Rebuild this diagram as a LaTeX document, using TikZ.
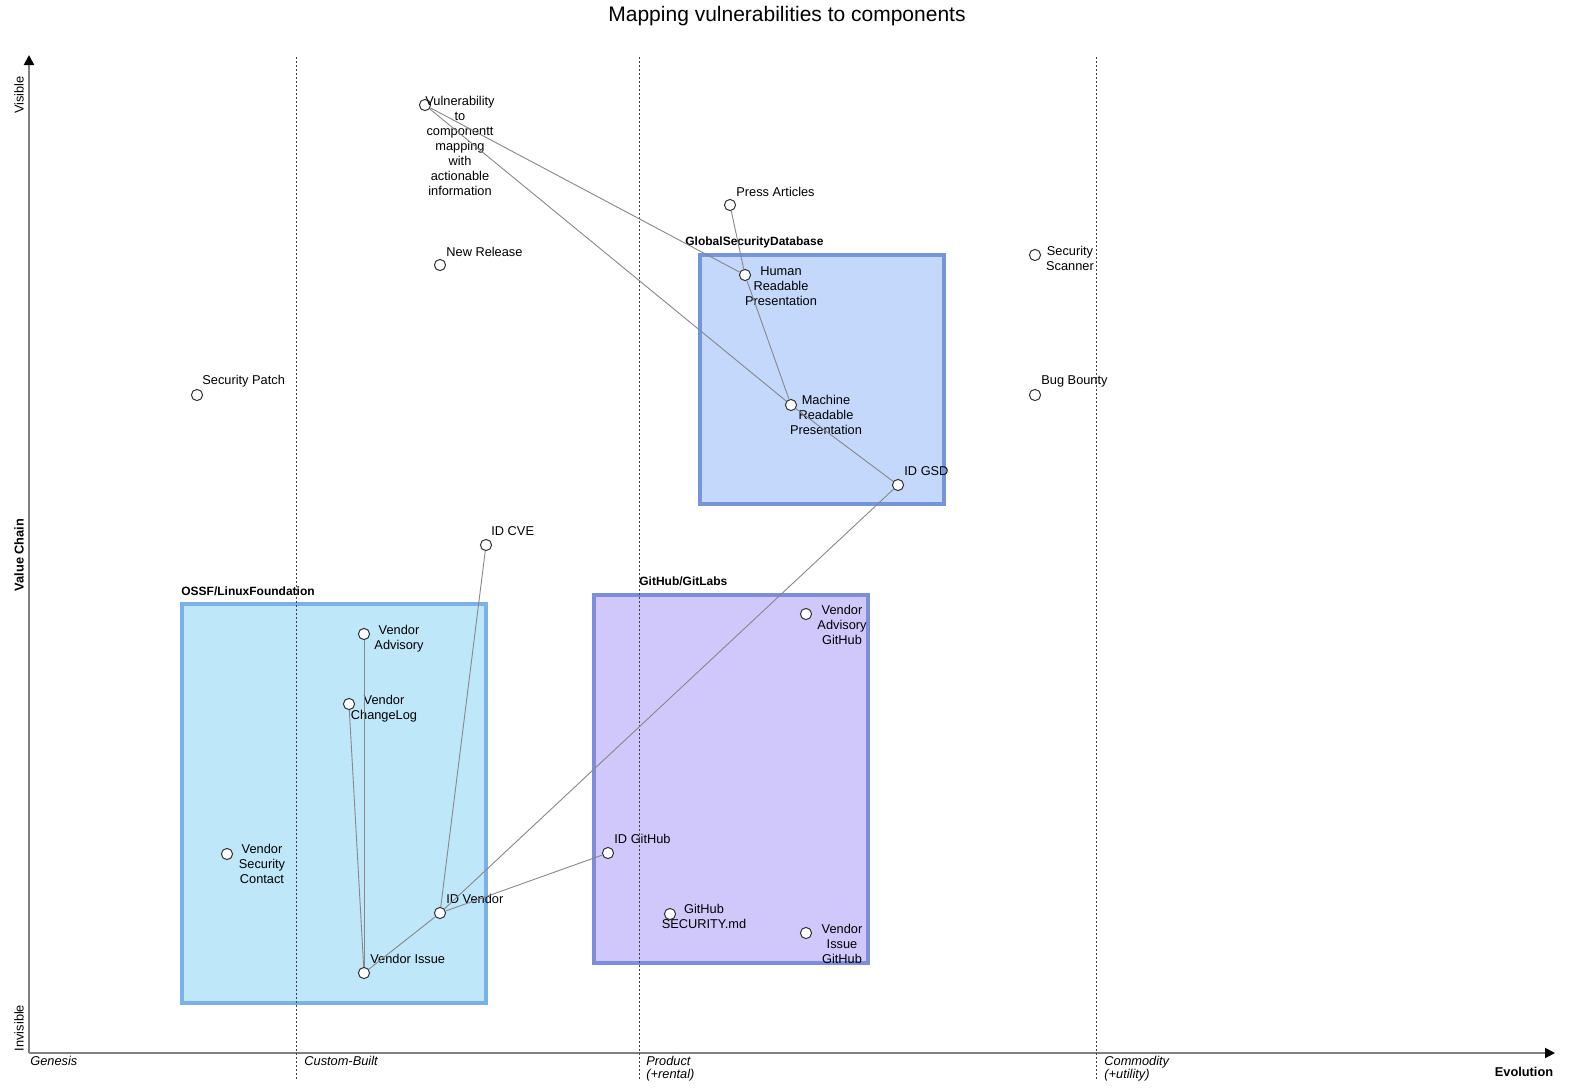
\documentclass[tikz,border=0pt]{standalone}
\usepackage{fontspec}
\setmainfont{Liberation Sans}
\usetikzlibrary{arrows.meta}
\definecolor{axisgray}{RGB}{128,128,128}
\definecolor{linkgray}{RGB}{135,135,135}
\definecolor{ossffill}{RGB}{190,232,250}
\definecolor{ossfborder}{RGB}{122,178,232}
\definecolor{ghfill}{RGB}{208,200,250}
\definecolor{ghborder}{RGB}{124,142,219}
\definecolor{gsdfill}{RGB}{196,216,252}
\definecolor{gsdborder}{RGB}{117,148,218}
\begin{document}
\begin{tikzpicture}[x=0.5pt,y=-0.5pt,
  comp/.style={circle,draw=black!80,fill=white,line width=0.5pt,minimum size=5.6pt,inner sep=0pt},
  lbl/.style={font=\fontsize{6.4}{7.5}\selectfont,align=center,inner sep=0pt,anchor=north},
  lbll/.style={font=\fontsize{6.4}{7.5}\selectfont,inner sep=0pt,anchor=west},
  grouplbl/.style={font=\fontsize{6}{7}\selectfont\bfseries,inner sep=0pt,anchor=west},
  stagelbl/.style={font=\fontsize{6.4}{6.6}\selectfont\itshape,inner sep=0pt,anchor=north west,align=left},
  link/.style={draw=linkgray,line width=0.45pt},
  axisline/.style={draw=axisgray,line width=1pt,-{Triangle[length=5pt,width=5pt,black]}},
  stageline/.style={draw=black!75,line width=0.5pt,dash pattern=on 1pt off 1pt},
  groupbox/.style={line width=2pt}]
\useasboundingbox (0,0) rectangle (1570,1089);

% title
\node[font=\fontsize{10.5}{12}\selectfont] (title) at (787,16) {Mapping vulnerabilities to components};

% group boxes
\node[groupbox,draw=ossfborder,fill=ossffill,minimum width=152pt,minimum height=199.5pt,inner sep=0pt] (ossf) at (334,803) {};
\node[groupbox,draw=ghborder,fill=ghfill,minimum width=137pt,minimum height=184pt,inner sep=0pt] (gh) at (730.5,779) {};
\node[groupbox,draw=gsdborder,fill=gsdfill,minimum width=122pt,minimum height=124.5pt,inner sep=0pt] (gsd) at (821.5,379.5) {};
\node[grouplbl] (ossfL) at (181,591) {OSSF/LinuxFoundation};
\node[grouplbl] (ghL) at (639,581) {GitHub/GitLabs};
\node[grouplbl] (gsdL) at (685,242) {GlobalSecurityDatabase};

% axes
\coordinate (origin) at (29,1053);
\coordinate (ytop) at (29,55);
\coordinate (xend) at (1555,1053);
\draw[axisline] (origin) -- (ytop);
\draw[axisline] (origin) -- (xend);

% stage lines
\coordinate (s1t) at (296,57); \coordinate (s1b) at (296,1080);
\coordinate (s2t) at (639,57); \coordinate (s2b) at (639,1080);
\coordinate (s3t) at (1096,57); \coordinate (s3b) at (1096,1080);
\draw[stageline] (s1t) -- (s1b);
\draw[stageline] (s2t) -- (s2b);
\draw[stageline] (s3t) -- (s3b);

% axis labels
\node[stagelbl] (genesis) at (30,1056) {Genesis};
\node[stagelbl] (custom) at (304,1056) {Custom-Built};
\node[stagelbl] (product) at (646,1056) {Product\\(+rental)};
\node[stagelbl] (commodity) at (1104,1056) {Commodity\\(+utility)};
\node[font=\fontsize{6.4}{7}\selectfont\bfseries,inner sep=0pt] (evolution) at (1524,1072) {Evolution};
\node[font=\fontsize{6.4}{7}\selectfont,rotate=90,inner sep=0pt] (visible) at (19,95) {Visible};
\node[font=\fontsize{6.4}{7}\selectfont,rotate=90,inner sep=0pt] (invisible) at (19,1028) {Invisible};
\node[font=\fontsize{6.4}{7}\selectfont\bfseries,rotate=90,inner sep=0pt] (valuechain) at (19,555) {Value Chain};

% components
\node[comp] (vuln) at (425,105) {};
\node[comp] (press) at (730,205) {};
\node[comp] (newrel) at (440,265) {};
\node[comp] (human) at (745,275) {};
\node[comp] (scanner) at (1035,255) {};
\node[comp] (patch) at (197,395) {};
\node[comp] (bounty) at (1035,395) {};
\node[comp] (machine) at (791,405) {};
\node[comp] (idgsd) at (898,485) {};
\node[comp] (idcve) at (486,545) {};
\node[comp] (vadv) at (364,634) {};
\node[comp] (vchg) at (349,704) {};
\node[comp] (vsec) at (227,854) {};
\node[comp] (idvendor) at (440,913) {};
\node[comp] (vissue) at (364,973) {};
\node[comp] (vadvgh) at (806,614) {};
\node[comp] (idgh) at (608,853) {};
\node[comp] (ghsec) at (670,914) {};
\node[comp] (vissuegh) at (806,933) {};

% labels
\node[lbl] (vulnL) at (460,96) {Vulnerability\\to\\componentt\\mapping\\with\\actionable\\information};
\node[lbll] (pressL) at (736,192) {Press Articles};
\node[lbll] (newrelL) at (446,252) {New Release};
\node[lbl] (humanL) at (781,266) {Human\\Readable\\Presentation};
\node[lbl] (scannerL) at (1070,246) {Security\\Scanner};
\node[lbll] (patchL) at (202,381) {Security Patch};
\node[lbll] (bountyL) at (1041,381) {Bug Bounty};
\node[lbl] (machineL) at (826,395) {Machine\\Readable\\Presentation};
\node[lbll] (idgsdL) at (904,471) {ID GSD};
\node[lbll] (idcveL) at (491,531) {ID CVE};
\node[lbl] (vadvL) at (399,625) {Vendor\\Advisory};
\node[lbl] (vchgL) at (384,695) {Vendor\\ChangeLog};
\node[lbl] (vsecL) at (262,844) {Vendor\\Security\\Contact};
\node[lbll] (idvendorL) at (446,899) {ID Vendor};
\node[lbll] (vissueL) at (370,959) {Vendor Issue};
\node[lbl] (vadvghL) at (842,605) {Vendor\\Advisory\\GitHub};
\node[lbll] (idghL) at (614,839) {ID GitHub};
\node[lbl] (ghsecL) at (704,904) {GitHub\\SECURITY.md};
\node[lbl] (vissueghL) at (842,924) {Vendor\\Issue\\GitHub};

% links
\draw[link] (vuln) -- (human);
\draw[link] (vuln) -- (machine);
\draw[link] (press) -- (human);
\draw[link] (human) -- (machine);
\draw[link] (machine) -- (idgsd);
\draw[link] (idgsd) -- (idvendor);
\draw[link] (idcve) -- (idvendor);
\draw[link] (vadv) -- (vissue);
\draw[link] (vchg) -- (vissue);
\draw[link] (idvendor) -- (vissue);
\draw[link] (idvendor) -- (idgh);
\end{tikzpicture}
\end{document}
